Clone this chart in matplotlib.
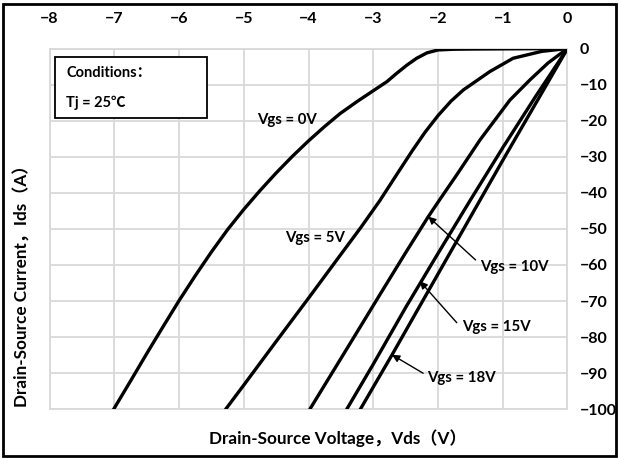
import matplotlib
matplotlib.use('Agg')
import matplotlib.pyplot as plt
from matplotlib.patches import Rectangle

plt.rcParams['font.family'] = ['Lato', 'Noto Sans CJK SC', 'DejaVu Sans']
plt.rcParams['font.weight'] = 'bold'

# third-quadrant curves (Vds in V, Ids in A)
vds_0v = [0, -0.5, -1.0, -1.5, -1.76, -2.0, -2.17, -2.33, -2.48, -2.64, -2.79, -3.0,
          -3.25, -3.51, -3.75, -4.0, -4.25, -4.5, -4.75, -5.0, -5.25, -5.5, -5.75,
          -6.0, -6.25, -6.5, -6.75, -7.01]
ids_0v = [0, -0.05, -0.1, -0.15, -0.2, -0.4, -1.2, -2.7, -4.6, -6.9, -9.2, -11.7,
          -14.7, -18.0, -21.6, -25.6, -29.9, -34.5, -39.4, -44.6, -50.2, -56.4, -63.0,
          -69.9, -77.2, -84.6, -92.2, -100]
vds_5v = [0, -0.4, -0.84, -1.2, -1.61, -1.8, -2.0, -2.2, -2.4, -2.64, -2.9, -3.2, -3.51,
          -4.0, -4.5, -5.0, -5.28]
ids_5v = [0, -0.8, -2.7, -6.4, -11.5, -14.6, -18.6, -23.2, -28.4, -35.0, -42.2, -49.8,
          -57.3, -69.2, -81.2, -93.3, -100]
vds_10v = [0, -0.3, -0.58, -0.89, -1.35, -1.71, -1.97, -2.15, -2.5, -2.89, -3.4, -3.98]
ids_10v = [0, -4, -8.7, -14.3, -25.3, -35.0, -41.8, -46.6, -56.6, -68.0, -83.0, -100]
vds_15v = [0, -0.5, -1.0, -1.5, -2.0, -2.5, -3.0, -3.41]
ids_15v = [0, -13.5, -27.5, -42, -56.8, -71.8, -87.5, -100]
vds_18v = [0, -0.5, -1.0, -1.35, -2.0, -2.71, -3.2]
ids_18v = [0, -15.5, -31, -42, -62.5, -84.9, -100]

x_ticks = [-8, -7, -6, -5, -4, -3, -2, -1, 0]
y_ticks = [0, -10, -20, -30, -40, -50, -60, -70, -80, -90, -100]

fig = plt.figure(figsize=(6.19, 4.59), dpi=100)
ax = fig.add_axes([0.080, 0.1083, 0.8368, 0.786])

for vx, iy in [(vds_0v, ids_0v), (vds_5v, ids_5v), (vds_10v, ids_10v),
               (vds_15v, ids_15v), (vds_18v, ids_18v)]:
    ax.plot(vx, iy, color='black', lw=2.4, solid_capstyle='round',
            solid_joinstyle='round', zorder=3)

ax.set_xlim(-8, 0)
ax.set_ylim(-100, 0)
ax.set_xticks(x_ticks)
ax.set_yticks(y_ticks)
ax.xaxis.tick_top()
ax.yaxis.tick_right()
ax.tick_params(axis='x', length=0, pad=16, labelsize=11.5)
ax.tick_params(axis='y', length=0, pad=9, labelsize=11.5)
for lab in ax.get_xticklabels() + ax.get_yticklabels():
    lab.set_fontweight('bold')
ax.grid(True, color='#d9d9d9', lw=1.3, zorder=0)
for sp in ax.spines.values():
    sp.set_color('#d9d9d9')
    sp.set_linewidth(1.3)

fig.text(0.545, 0.046, 'Drain-Source Voltage，Vds（V）', ha='center', va='center',
         fontsize=12.3, fontweight='bold')
fig.text(0.036, 0.385, 'Drain-Source Current，Ids（A）', ha='center', va='center',
         rotation=90, fontsize=12.3, fontweight='bold')

# curve labels
lbl = dict(ha='left', va='center', fontsize=10.8, fontweight='bold')
ax.text(-4.80, -19.8, 'Vgs = 0V', **lbl)
ax.text(-4.36, -52.6, 'Vgs = 5V', **lbl)
arrow = dict(arrowstyle='-|>', color='black', lw=1.0, mutation_scale=11, shrinkA=0, shrinkB=0)
ax.annotate('', xy=(-2.15, -46.6), xytext=(-1.42, -58.6), arrowprops=arrow)
ax.text(-1.35, -60.5, 'Vgs = 10V', **lbl)
ax.annotate('', xy=(-2.28, -64.5), xytext=(-1.71, -76.0), arrowprops=arrow)
ax.text(-1.63, -77.3, 'Vgs = 15V', **lbl)
ax.annotate('', xy=(-2.71, -84.9), xytext=(-2.23, -90.0), arrowprops=arrow)
ax.text(-2.17, -91.4, 'Vgs = 18V', **lbl)

# conditions box
ax.add_patch(Rectangle((-7.92, -19.3), 2.35, 17.0, facecolor='white', edgecolor='black',
                       lw=1.3, zorder=5))
ax.text(-7.74, -6.9, 'Conditions：', ha='left', va='center', fontsize=10.5,
        fontweight='bold', zorder=6)
ax.text(-7.74, -15.0, 'Tj = 25℃', ha='left', va='center', fontsize=10.5,
        fontweight='bold', zorder=6)

# outer frame
fig.patches.append(Rectangle((0.005, 0.006), 0.99, 0.986, transform=fig.transFigure,
                             fill=False, edgecolor='black', lw=2))

fig.savefig('out.png', dpi=100)
